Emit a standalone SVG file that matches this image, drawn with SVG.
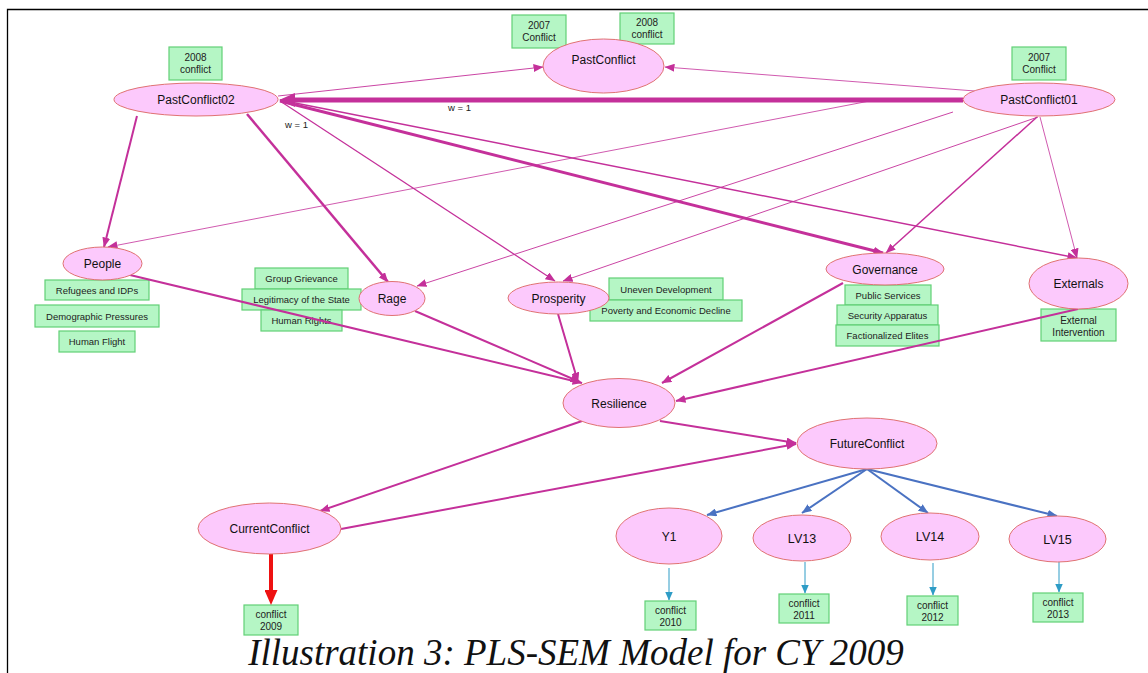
<svg xmlns="http://www.w3.org/2000/svg" width="1148" height="673" viewBox="0 0 1148 673">
<style>
.lv ellipse{fill:#fcc9fc;stroke:#e07272;stroke-width:1}
.lv text{font-family:"Liberation Sans",Arial,sans-serif;font-size:12px;fill:#111;text-anchor:middle}
.mv rect{fill:#b5f6c5;stroke:#62d076;stroke-width:1.2}
.mv text{font-family:"Liberation Sans",Arial,sans-serif;font-size:9.5px;fill:#222;text-anchor:middle}
.mv text.t2{font-size:10px}
.m{stroke:#c4309a;fill:none}
.b{stroke:#4a72c2;stroke-width:2;fill:none}
.t{stroke:#2e9cc6;stroke-width:1;fill:none}
.w{font-family:"Liberation Sans",Arial,sans-serif;font-size:9.5px;fill:#222}
</style>
<defs>
<marker id="am" markerWidth="10" markerHeight="8" refX="9.5" refY="4" orient="auto" markerUnits="userSpaceOnUse"><path d="M0,0 L10,4 L0,8 z" fill="#c4309a"/></marker>
<marker id="amBig" markerWidth="16" markerHeight="14" refX="1" refY="7" orient="auto" markerUnits="userSpaceOnUse"><path d="M0,0 L16,7 L0,14 z" fill="#c4309a"/></marker>
<marker id="ab" markerWidth="10" markerHeight="8" refX="9.5" refY="4" orient="auto" markerUnits="userSpaceOnUse"><path d="M0,0 L10,4 L0,8 z" fill="#4a72c2"/></marker>
<marker id="at" markerWidth="9" markerHeight="8" refX="8.5" refY="4" orient="auto" markerUnits="userSpaceOnUse"><path d="M0,0 L9,4 L0,8 z" fill="#2e9cc6"/></marker>
<marker id="ar" markerWidth="15" markerHeight="13" refX="1" refY="6.5" orient="auto" markerUnits="userSpaceOnUse"><path d="M0,0 L15,6.5 L0,13 z" fill="#ee1111"/></marker>
</defs>
<rect width="1148" height="673" fill="#fff"/>
<path d="M7.5,673 V9.5 H1148" stroke="#000" stroke-width="1.3" fill="none"/>

<g id="mv-pc02-2008" class="mv"><rect x="169" y="47" width="53" height="33"/><text class="t2" x="195.5" y="61">2008</text><text class="t2" x="195.5" y="73">conflict</text></g>
<g id="mv-pc-2007" class="mv"><rect x="512" y="15" width="54" height="33"/><text class="t2" x="539" y="29">2007</text><text class="t2" x="539" y="41">Conflict</text></g>
<g id="mv-pc-2008" class="mv"><rect x="620" y="13" width="54" height="31"/><text class="t2" x="647" y="26">2008</text><text class="t2" x="647" y="38">conflict</text></g>
<g id="mv-pc01-2007" class="mv"><rect x="1012" y="47" width="54" height="33"/><text class="t2" x="1039" y="61">2007</text><text class="t2" x="1039" y="73">Conflict</text></g>
<g id="mv-refugees" class="mv"><rect x="45" y="280" width="104" height="20"/><text x="97" y="293.5">Refugees and IDPs</text></g>
<g id="mv-demographic" class="mv"><rect x="35" y="305" width="124" height="22"/><text x="97" y="319.5">Demographic Pressures</text></g>
<g id="mv-flight" class="mv"><rect x="59" y="331" width="76" height="21"/><text x="97" y="345">Human Flight</text></g>
<g id="mv-grievance" class="mv"><rect x="255" y="268" width="93" height="21"/><text x="301.5" y="281.5">Group Grievance</text></g>
<g id="mv-legitimacy" class="mv"><rect x="242" y="289" width="119" height="21"/><text x="301.5" y="302.5">Legitimacy of the State</text></g>
<g id="mv-rights" class="mv"><rect x="261" y="310" width="81" height="21"/><text x="301.5" y="323.5">Human Rights</text></g>
<g id="mv-uneven" class="mv"><rect x="609" y="278" width="114" height="22"/><text x="666" y="292.5">Uneven Development</text></g>
<g id="mv-poverty" class="mv"><rect x="590" y="300" width="152" height="21"/><text x="666" y="313.5">Poverty and Economic Decline</text></g>
<g id="mv-public" class="mv"><rect x="845" y="285" width="86" height="20"/><text x="888" y="298.5">Public Services</text></g>
<g id="mv-security" class="mv"><rect x="837" y="305" width="101" height="20"/><text x="887.5" y="318.5">Security Apparatus</text></g>
<g id="mv-elites" class="mv"><rect x="836" y="325" width="103" height="21"/><text x="887.5" y="339">Factionalized Elites</text></g>
<g id="mv-external" class="mv"><rect x="1041" y="309" width="75" height="32"/><text class="t2" x="1078.5" y="324">External</text><text class="t2" x="1078.5" y="335.5">Intervention</text></g>
<g id="mv-2009" class="mv"><rect x="244" y="605" width="54" height="30"/><text class="t2" x="271" y="618">conflict</text><text class="t2" x="271" y="630">2009</text></g>
<g id="mv-2010" class="mv"><rect x="645" y="601" width="51" height="29"/><text class="t2" x="670.5" y="614">conflict</text><text class="t2" x="670.5" y="625.5">2010</text></g>
<g id="mv-2011" class="mv"><rect x="779" y="594" width="50" height="29"/><text class="t2" x="804" y="607">conflict</text><text class="t2" x="804" y="618.5">2011</text></g>
<g id="mv-2012" class="mv"><rect x="907" y="596" width="51" height="29"/><text class="t2" x="932.5" y="609">conflict</text><text class="t2" x="932.5" y="620.5">2012</text></g>
<g id="mv-2013" class="mv"><rect x="1033" y="593" width="50" height="29"/><text class="t2" x="1058" y="606">conflict</text><text class="t2" x="1058" y="617.5">2013</text></g>

<g id="connectors">
<path class="m" stroke-width="0.9" d="M278,96 L543,67" marker-end="url(#am)"/>
<path class="m" stroke-width="0.8" d="M975,91 L665,67" marker-end="url(#am)"/>
<path class="m" stroke-width="2" d="M137,116 L104,247" marker-end="url(#am)"/>
<path class="m" stroke-width="0.8" d="M880,99 L108,247" marker-end="url(#am)"/>
<path class="m" stroke-width="2.5" d="M247,114 L388,282" marker-end="url(#am)"/>
<path class="m" stroke-width="0.9" d="M953,112 L417,286" marker-end="url(#am)"/>
<path class="m" stroke-width="1.2" d="M280,101 L555,281" marker-end="url(#am)"/>
<path class="m" stroke-width="0.9" d="M1038,117 L563,281" marker-end="url(#am)"/>
<path class="m" stroke-width="3" d="M280,101 L883,253" marker-end="url(#am)"/>
<path class="m" stroke-width="1.5" d="M1037,117 L886,253" marker-end="url(#am)"/>
<path class="m" stroke-width="1.5" d="M280,100 L1077,258" marker-end="url(#am)"/>
<path class="m" stroke-width="0.8" d="M1040,117 L1077,258" marker-end="url(#am)"/>
<path class="m" stroke-width="5" d="M963,100 L294,100" marker-end="url(#amBig)"/>
<path class="m" stroke-width="2" d="M130,275 L582,383" marker-end="url(#am)"/>
<path class="m" stroke-width="2" d="M415,311 L580,382" marker-end="url(#am)"/>
<path class="m" stroke-width="2" d="M558,314 L578,382" marker-end="url(#am)"/>
<path class="m" stroke-width="2" d="M843,283 L662,383" marker-end="url(#am)"/>
<path class="m" stroke-width="2" d="M1078,309 L676,401" marker-end="url(#am)"/>
<path class="m" stroke-width="2" d="M660,421 L796,443" marker-end="url(#am)"/>
<path class="m" stroke-width="2" d="M582,421 L320,511" marker-end="url(#am)"/>
<path class="m" stroke-width="2" d="M341,529 L796,444" marker-end="url(#am)"/>
<path class="b" d="M867,469 L707,515" marker-end="url(#ab)"/>
<path class="b" d="M867,469 L802,513" marker-end="url(#ab)"/>
<path class="b" d="M867,469 L928,513" marker-end="url(#ab)"/>
<path class="b" d="M867,469 L1057,516" marker-end="url(#ab)"/>
<path stroke="#ee1111" stroke-width="4" fill="none" d="M271,554 L271,591" marker-end="url(#ar)"/>
<path class="t" d="M669,568 L669,600" marker-end="url(#at)"/>
<path class="t" d="M805,562 L805,593" marker-end="url(#at)"/>
<path class="t" d="M933,563 L933,595" marker-end="url(#at)"/>
<path class="t" d="M1059,562 L1059,592" marker-end="url(#at)"/>
<text class="w" x="448" y="111">w = 1</text>
<text class="w" x="285" y="128">w = 1</text>
</g>

<g id="PastConflict02" class="lv"><ellipse cx="196" cy="99.5" rx="82" ry="16.5"/><text x="196" y="104">PastConflict02</text></g>
<g id="PastConflict" class="lv"><ellipse cx="603.5" cy="66" rx="60.5" ry="27"/><text x="603.5" y="63.5">PastConflict</text></g>
<g id="PastConflict01" class="lv"><ellipse cx="1039" cy="99.5" rx="76" ry="16.5"/><text x="1039" y="104">PastConflict01</text></g>
<g id="People" class="lv"><ellipse cx="102.5" cy="263.5" rx="39.5" ry="16.5"/><text x="102.5" y="268">People</text></g>
<g id="Rage" class="lv"><ellipse cx="392" cy="298.5" rx="33" ry="17"/><text x="392" y="303">Rage</text></g>
<g id="Prosperity" class="lv"><ellipse cx="558.5" cy="298" rx="50.5" ry="16"/><text x="558.5" y="302.5">Prosperity</text></g>
<g id="Governance" class="lv"><ellipse cx="885" cy="269" rx="59" ry="16"/><text x="885" y="274">Governance</text></g>
<g id="Externals" class="lv"><ellipse cx="1078.5" cy="283.5" rx="49.5" ry="25.5"/><text x="1078.5" y="288">Externals</text></g>
<g id="Resilience" class="lv"><ellipse cx="619" cy="403" rx="56" ry="24.5"/><text x="619" y="407.5">Resilience</text></g>
<g id="FutureConflict" class="lv"><ellipse cx="867" cy="443.5" rx="70" ry="25.5"/><text x="867" y="448">FutureConflict</text></g>
<g id="CurrentConflict" class="lv"><ellipse cx="269.5" cy="528.5" rx="71.5" ry="25.5"/><text x="269.5" y="533">CurrentConflict</text></g>
<g id="Y1" class="lv"><ellipse cx="669" cy="536" rx="53" ry="28"/><text x="669" y="540.5">Y1</text></g>
<g id="LV13" class="lv"><ellipse cx="802" cy="538" rx="49" ry="23"/><text x="802" y="542.5" style="font-size:12.5px">LV13</text></g>
<g id="LV14" class="lv"><ellipse cx="930" cy="536.5" rx="49" ry="23.5"/><text x="930" y="541" style="font-size:12.5px">LV14</text></g>
<g id="LV15" class="lv"><ellipse cx="1057.5" cy="539" rx="48.5" ry="23"/><text x="1057.5" y="543.5" style="font-size:12.5px">LV15</text></g>

<text x="576" y="665" style="font-family:'Liberation Serif','Times New Roman',serif;font-style:italic;font-size:37px;fill:#111" text-anchor="middle">Illustration 3: PLS-SEM Model for CY 2009</text>
</svg>
